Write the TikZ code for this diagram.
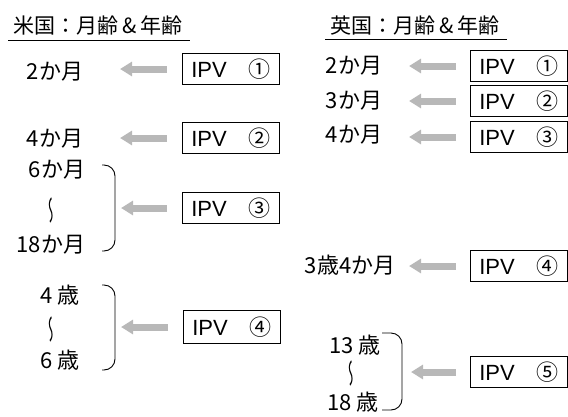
\documentclass[tikz,border=0pt]{standalone}
\usepackage{fontspec}
\setmainfont{Liberation Sans}
\newfontfamily\jp{Noto Sans CJK JP}
\usetikzlibrary{arrows.meta}
\newcommand{\vwave}{\reflectbox{\scalebox{1}[0.5]{〜}}}
\begin{document}
\begin{tikzpicture}[x=1pt,y=-1pt,
  lab/.style={font=\jp\fontsize{22}{26}\selectfont, inner sep=0pt},
  ttl/.style={font=\jp\fontsize{21}{24}\selectfont, inner sep=0pt},
  ipv/.style={draw, line width=0.9pt, minimum width=97pt, minimum height=31pt, inner sep=0pt, font=\fontsize{22}{24}\selectfont},
  fat/.style={draw=black!28, line width=7pt, -{Triangle[width=14pt,length=12pt]}},
  brk/.style={line width=0.9pt, rounded corners=11pt},
  wave/.style={font=\jp\fontsize{28}{28}\selectfont, inner sep=0pt, rotate=90}
]
\useasboundingbox (0,0) rectangle (568,416);
% titles
\node[ttl] (tl) at (98,25) {米国：月齢\,\&\,年齢};
\draw[line width=0.9pt] (8,40) -- (190,40);
\node[ttl] (tr) at (415,25) {英国：月齢\,\&\,年齢};
\draw[line width=0.9pt] (325,39) -- (507,39);

% left column
\node[lab] (l1) at (55,72) {2か月};
\node[lab] (l2) at (55,139) {4か月};
\node[lab] (l3) at (57,170) {6か月};
\node[wave] (lw1) at (53,210) {\vwave};
\node[lab] (l4) at (51,245) {18か月};
\node[lab] (l5) at (60,295) {4 歳};
\node[wave] (lw2) at (53,329) {\vwave};
\node[lab] (l6) at (60,360) {6 歳};

\node[ipv] (lb1) at (231,69) {IPV\hspace{22pt}{\jp ①}\hspace{6pt}};
\node[ipv] (lb2) at (231,138) {IPV\hspace{22pt}{\jp ②}\hspace{6pt}};
\node[ipv] (lb3) at (231,208) {IPV\hspace{22pt}{\jp ③}\hspace{6pt}};
\node[ipv, minimum height=33pt] (lb4) at (232,327) {IPV\hspace{22pt}{\jp ④}\hspace{6pt}};

\draw[brk] (102,165) -| (115,208) |- (102,251);
\draw[brk] (102,285) -| (115,328) |- (102,370);

\draw[fat] ([xshift=-15pt]lb1.west) -- ([xshift=-62pt]lb1.west);
\draw[fat] ([xshift=-15pt]lb2.west) -- ([xshift=-62pt]lb2.west);
\draw[fat] ([xshift=-15pt]lb3.west) -- ([xshift=-61pt]lb3.west);
\draw[fat] ([xshift=-15pt]lb4.west) -- ([xshift=-62pt]lb4.west);

% right column
\node[lab] (r1) at (354,66) {2か月};
\node[lab] (r2) at (354,101) {3か月};
\node[lab] (r3) at (354,135) {4か月};
\node[lab] (r4) at (350,265) {3歳4か月};
\node[lab] (r5) at (355,345) {13 歳};
\node[wave] (rw) at (353,373) {\vwave};
\node[lab] (r6) at (353,402) {18 歳};

\node[ipv] (rb1) at (519,66) {IPV\hspace{22pt}{\jp ①}\hspace{6pt}};
\node[ipv] (rb2) at (519,101) {IPV\hspace{22pt}{\jp ②}\hspace{6pt}};
\node[ipv] (rb3) at (519,137) {IPV\hspace{22pt}{\jp ③}\hspace{6pt}};
\node[ipv] (rb4) at (519,266) {IPV\hspace{22pt}{\jp ④}\hspace{6pt}};
\node[ipv] (rb5) at (519,372) {IPV\hspace{22pt}{\jp ⑤}\hspace{6pt}};

\draw[brk] (382,333) -| (402,372) |- (382,410);

\draw[fat] ([xshift=-14pt]rb1.west) -- ([xshift=-61pt]rb1.west);
\draw[fat] ([xshift=-14pt]rb2.west) -- ([xshift=-61pt]rb2.west);
\draw[fat] ([xshift=-14pt]rb3.west) -- ([xshift=-61pt]rb3.west);
\draw[fat] ([xshift=-14pt]rb4.west) -- ([xshift=-61pt]rb4.west);
\draw[fat] ([xshift=-14pt]rb5.west) -- ([xshift=-59pt]rb5.west);
\end{tikzpicture}
\end{document}
